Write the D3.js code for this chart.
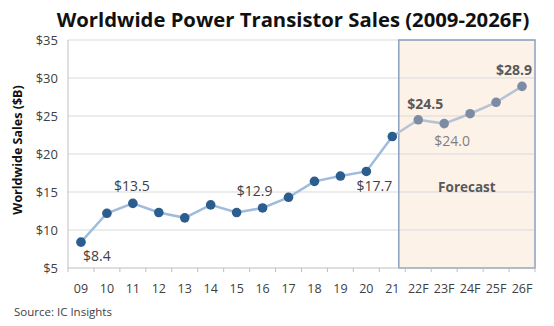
<!DOCTYPE html>
<html><head><meta charset="utf-8">
<script src="https://cdn.jsdelivr.net/npm/d3@7"></script>
<style>body{margin:0;background:#fff}svg{display:block}text{font-family:"Open Sans",sans-serif}</style>
</head><body><svg id="c" width="554" height="326"></svg>
<script>
const categories = ["09","10","11","12","13","14","15","16","17","18","19","20","21","22F","23F","24F","25F","26F"];
const sales = [8.4,12.2,13.5,12.3,11.6,13.3,12.3,12.9,14.3,16.4,17.1,17.7,22.3,24.5,24.0,25.3,26.8,28.9];
const forecastStart = "22F";
const yTicks = [5,10,15,20,25,30,35];
const labels = [
  {cat:"09", text:"$8.4", dx:16, dy:14, style:"hist"},
  {cat:"11", text:"$13.5", dx:-1, dy:-17, style:"hist"},
  {cat:"16", text:"$12.9", dx:-8, dy:-17, style:"hist"},
  {cat:"20", text:"$17.7", dx:8, dy:15, style:"hist"},
  {cat:"22F", text:"$24.5", dx:7, dy:-16, style:"bold"},
  {cat:"23F", text:"$24.0", dx:8, dy:17, style:"light"},
  {cat:"26F", text:"$28.9", dx:-8, dy:-16, style:"bold"}
];
const title = "Worldwide Power Transistor Sales (2009-2026F)";
const yTitle = "Worldwide Sales ($B)";
const source = "Source: IC Insights";

const svg = d3.select("#c");
const L=68,R=535,T=40,B=268;
const x = d3.scaleBand().domain(categories).range([L,R]);
const y = d3.scaleLinear().domain([5,35]).range([B,T]);
const cx = c => x(c)+x.bandwidth()/2;

// forecast box
const fi = categories.indexOf(forecastStart);
const boxL = (cx(categories[fi-1]) + x(forecastStart))/2;
svg.append("rect").attr("x",boxL).attr("y",T).attr("width",R-boxL).attr("height",B-T).attr("fill","#fdf2e8");

// gridlines
svg.append("g").selectAll("line").data(yTicks.filter(d=>d>5)).join("line")
  .attr("x1",L).attr("x2",R).attr("y1",d=>y(d)).attr("y2",d=>y(d))
  .attr("stroke","#d9d9d9").attr("stroke-width",1);

svg.append("rect").attr("x",boxL).attr("y",T).attr("width",R-boxL).attr("height",B-T)
  .attr("fill","none").attr("stroke","#8aa0c2").attr("stroke-width",1.5);

// axes
svg.append("line").attr("x1",L).attr("x2",L).attr("y1",T).attr("y2",B).attr("stroke","#bfbfbf");
svg.append("line").attr("x1",L).attr("x2",R).attr("y1",B).attr("y2",B).attr("stroke","#bfbfbf");
const bounds = categories.map(c=>x(c)).concat([R]);
svg.append("g").selectAll("line").data(bounds).join("line")
  .attr("x1",d=>d).attr("x2",d=>d).attr("y1",B).attr("y2",B+4).attr("stroke","#bfbfbf");

svg.append("g").selectAll("text").data(yTicks).join("text")
  .attr("x",L-10).attr("y",d=>y(d)+4.5).attr("text-anchor","end")
  .attr("font-size",13).attr("fill","#404040").text(d=>"$"+d);

svg.append("g").selectAll("text").data(categories).join("text")
  .attr("x",d=>cx(d)).attr("y",B+25).attr("text-anchor","middle")
  .attr("font-size",12.5).attr("fill","#404040").text(d=>d);

// lines
const pts = categories.map((c,i)=>({c,v:sales[i],i}));
const line = d3.line().x(d=>cx(d.c)).y(d=>y(d.v));
svg.append("path").datum(pts.slice(0,fi)).attr("d",line).attr("fill","none").attr("stroke","#9fbcdc").attr("stroke-width",2.5);
svg.append("path").datum(pts.slice(fi-1)).attr("d",line).attr("fill","none").attr("stroke","#b7c3d3").attr("stroke-width",2.5);
svg.append("g").selectAll("circle").data(pts).join("circle")
  .attr("cx",d=>cx(d.c)).attr("cy",d=>y(d.v)).attr("r",4.8)
  .attr("fill",d=>d.i<fi?"#2b5d8f":"#7c8ca5");

// data labels
const styles = {hist:{w:400,c:"#404040"},bold:{w:700,c:"#595959"},light:{w:400,c:"#7f7f7f"}};
svg.append("g").selectAll("text").data(labels).join("text")
  .attr("x",d=>cx(d.cat)+d.dx).attr("y",d=>y(sales[categories.indexOf(d.cat)])+d.dy+5)
  .attr("text-anchor","middle").attr("font-size",14)
  .attr("font-weight",d=>styles[d.style].w).attr("fill",d=>styles[d.style].c).text(d=>d.text);

svg.append("text").attr("x",(boxL+R)/2).attr("y",y(15.7)+5).attr("text-anchor","middle")
  .attr("font-size",13.5).attr("font-weight",700).attr("fill","#595959").text("Forecast");

// titles
const t = svg.append("text").attr("x",293).attr("y",27).attr("text-anchor","middle")
  .attr("font-size",20).attr("font-weight",700).attr("fill","#111").text(title);
const tw = t.node().getComputedTextLength();
t.attr("font-size",20*473/tw);

const yt = svg.append("text").attr("transform","translate(22,150) rotate(-90)").attr("text-anchor","middle")
  .attr("font-size",12.5).attr("font-weight",700).attr("fill","#111").text(yTitle);
svg.append("text").attr("x",14).attr("y",316).attr("font-size",11.5).attr("fill","#404040").text(source);
</script></body></html>
